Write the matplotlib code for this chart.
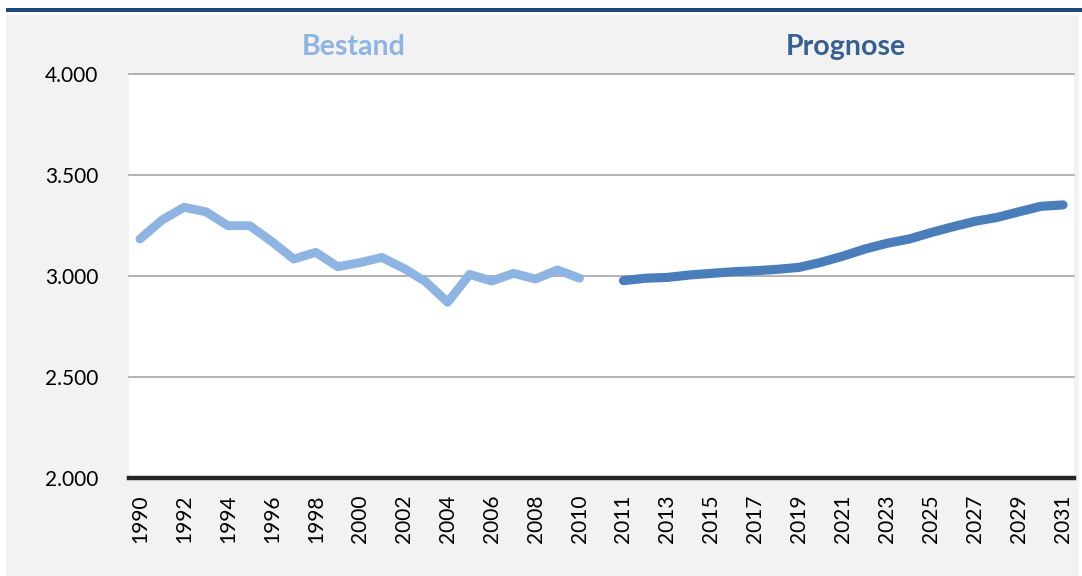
import matplotlib
matplotlib.use("Agg")
import matplotlib.pyplot as plt
from matplotlib.patches import Rectangle

# ---- data ----
years_bestand = list(range(1990, 2011))
bestand = [3183, 3277, 3340, 3318, 3249, 3249, 3170, 3084, 3117, 3046, 3066,
           3092, 3038, 2972, 2870, 3008, 2975, 3013, 2985, 3030, 2989]
years_prognose = list(range(2011, 2032))
prognose = [2977, 2989, 2993, 3005, 3013, 3021, 3026, 3033, 3043, 3068, 3099,
            3134, 3162, 3183, 3215, 3244, 3271, 3290, 3318, 3345, 3352]
categories = [str(y) for y in years_bestand] + [""] + [str(y) for y in years_prognose]
yticks = [2000, 2500, 3000, 3500, 4000]
ytick_labels = ["2.000", "2.500", "3.000", "3.500", "4.000"]
title_left = "Bestand"
title_right = "Prognose"

W, H = 1082, 576
fig = plt.figure(figsize=(W / 100, H / 100), dpi=100)
fig.patch.set_facecolor("white")

# gray chart background and dark blue bar on top
fig.patches.append(Rectangle((6 / W, 0), (1079 - 6) / W, 1 - 15 / H,
                             transform=fig.transFigure, facecolor="#F2F2F2",
                             edgecolor="none", zorder=-10))
fig.patches.append(Rectangle((6 / W, 1 - 11.5 / H), 1 - 6 / W, 3.5 / H,
                             transform=fig.transFigure, facecolor="#1F497D",
                             edgecolor="none", zorder=-10))

ax = fig.add_axes([129 / W, 1 - 478 / H, (1074 - 129) / W, (478 - 74) / H])
ax.set_zorder(1)
ax.set_facecolor("white")

idx_b = [categories.index(str(y)) for y in years_bestand]
idx_p = [categories.index(str(y)) for y in years_prognose]

ax.plot(idx_b, bestand, color="#8DB4E2", lw=6.4, solid_capstyle="round",
        solid_joinstyle="round", zorder=3)
ax.plot(idx_p, prognose, color="#4A7EBB", lw=6.6, solid_capstyle="round",
        solid_joinstyle="round", zorder=3)

ax.set_xlim(-0.5, len(categories) - 0.5)
ax.set_ylim(2000, 4000)
ax.set_yticks(yticks)
ax.set_yticklabels(ytick_labels)
for y in yticks[1:]:
    ax.axhline(y, color="#A6A6A6", lw=1.2, zorder=1, clip_on=False)
ax.axhline(2000, color="#262626", lw=3.2, zorder=4, clip_on=False)

label_pos = list(range(0, len(categories), 2))
ax.set_xticks(label_pos)
ax.set_xticklabels([categories[i] for i in label_pos], rotation=90)

for s in ax.spines.values():
    s.set_visible(False)
ax.tick_params(axis="both", length=0, labelsize=15, colors="black")
ax.tick_params(axis="y", pad=22)
ax.tick_params(axis="x", pad=12)
for lab in ax.get_xticklabels() + ax.get_yticklabels():
    lab.set_fontfamily("Lato")

fig.text(354 / W, 1 - 47 / H, title_left, ha="center", va="center",
         fontsize=20.5, fontweight="bold", color="#8DB4E2", family="Lato")
fig.text(846 / W, 1 - 47 / H, title_right, ha="center", va="center",
         fontsize=20.5, fontweight="bold", color="#376092", family="Lato")

fig.savefig("out.png", dpi=100, facecolor=fig.get_facecolor())
